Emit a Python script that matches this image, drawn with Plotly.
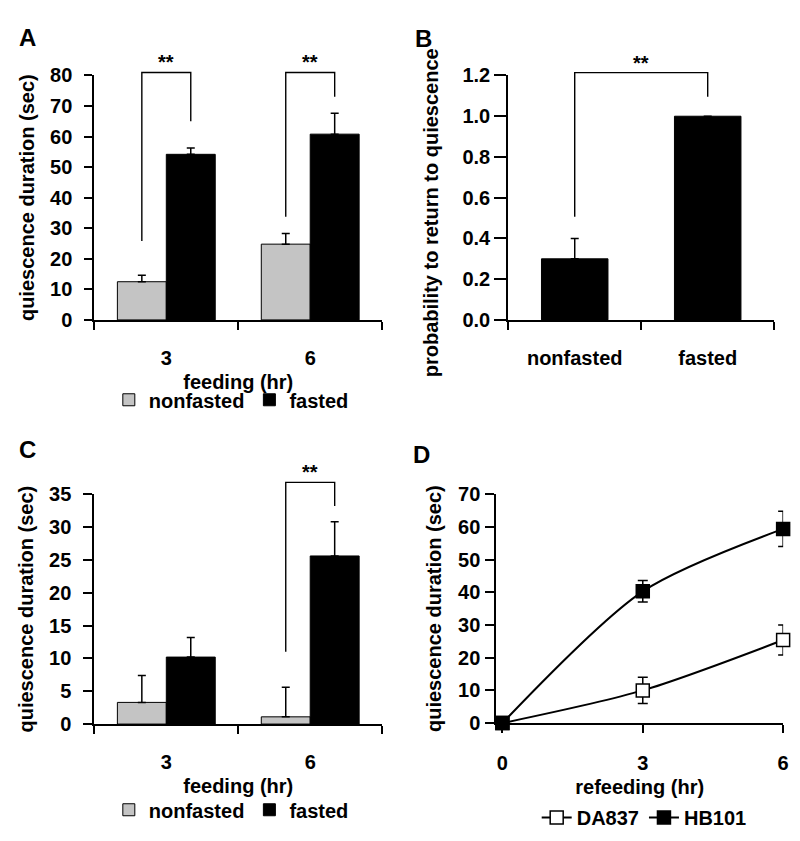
import plotly.graph_objects as go

# ---------------- data ----------------
feed_cats = ["3", "6"]
A_nonfasted = [12.5, 24.8]
A_nonfasted_err = [2.1, 3.5]
A_fasted = [54.2, 60.8]
A_fasted_err = [2.1, 6.8]
A_bracket_top = [81.0, 81.0]
A_bracket_left = [25.8, 33.8]
A_bracket_right = [65.0, 73.0]

B_cats = ["nonfasted", "fasted"]
B_vals = [0.30, 1.00]
B_err = [0.10, 0.0]
B_bracket_top = 1.214
B_bracket_left = 0.507
B_bracket_right = 1.095

C_nonfasted = [3.3, 1.1]
C_nonfasted_err = [4.1, 4.5]
C_fasted = [10.2, 25.6]
C_fasted_err = [3.0, 5.2]
C_bracket_top = 36.8
C_bracket_left = 11.0
C_bracket_right = 33.2

D_hours = [0, 3, 6]
D_DA837 = [0, 10.0, 25.4]
D_DA837_err = [0, 4.0, 4.6]
D_HB101 = [0, 40.3, 59.4]
D_HB101_err = [0, 3.3, 5.4]

GREY = "#c4c4c4"
W, H = 800, 841
BARGAP = 0.32
FONT = "Liberation Sans, Arial, sans-serif"
FS = 20
EXT = 1.15  # head-room factor for the significance-bracket axes


def px_x(p):
    return p / W


def px_y(p):
    return 1 - p / H


fig = go.Figure()

half = (1 - BARGAP) / 4  # bar-centre offset inside a 2-trace group


def bar_pair(nf, nf_err, fa, fa_err, xa, ya, legend):
    idx = list(range(len(feed_cats)))
    fig.add_trace(go.Bar(
        x=idx, y=nf, name="nonfasted", marker=dict(color=GREY, line=dict(color="black", width=1)),
        error_y=dict(type="data", array=nf_err, arrayminus=[0] * len(nf), symmetric=False,
                     color="black", thickness=1.5, width=4),
        xaxis=xa, yaxis=ya, legend=legend))
    fig.add_trace(go.Bar(
        x=idx, y=fa, name="fasted", marker=dict(color="black", line=dict(color="black", width=1)),
        error_y=dict(type="data", array=fa_err, arrayminus=[0] * len(fa), symmetric=False,
                     color="black", thickness=1.5, width=4),
        xaxis=xa, yaxis=ya, legend=legend))


def bracket(xl, xr, top, lb, rb, xa, ya):
    fig.add_trace(go.Scatter(
        x=[xl, xl, xr, xr], y=[lb, top, top, rb], mode="lines",
        line=dict(color="black", width=1.4), cliponaxis=False, showlegend=False,
        hoverinfo="skip", xaxis=xa, yaxis=ya))
    fig.add_annotation(x=(xl + xr) / 2, y=top, xref=xa, yref=ya, text="**",
                       showarrow=False, yanchor="bottom", yshift=-3,
                       font=dict(size=FS, family=FONT, weight="bold"))


# Panel A
bar_pair(A_nonfasted, A_nonfasted_err, A_fasted, A_fasted_err, "x", "y", "legend")
for i in range(len(feed_cats)):
    bracket(i - half, i + half, A_bracket_top[i], A_bracket_left[i], A_bracket_right[i], "x", "y5")

# Panel B
fig.add_trace(go.Bar(
    x=list(range(len(B_cats))), y=B_vals, width=0.5, marker=dict(color="black", line=dict(color="black", width=1)),
    error_y=dict(type="data", array=B_err, arrayminus=[0, 0], symmetric=False,
                 color="black", thickness=1.5, width=4),
    xaxis="x2", yaxis="y2", showlegend=False))
bracket(0, 1, B_bracket_top, B_bracket_left, B_bracket_right, "x2", "y6")
# empty trace so the title-only axis of panel B is drawn
fig.add_trace(go.Scatter(x=[None], y=[None], mode="markers", showlegend=False, hoverinfo="skip",
                         xaxis="x2", yaxis="y8"))

# Panel C
bar_pair(C_nonfasted, C_nonfasted_err, C_fasted, C_fasted_err, "x3", "y3", "legend2")
bracket(1 - half, 1 + half, C_bracket_top, C_bracket_left, C_bracket_right, "x3", "y7")

# Panel D
fig.add_trace(go.Scatter(
    x=D_hours, y=D_DA837, name="DA837", mode="lines+markers",
    line=dict(color="black", width=2, shape="spline", smoothing=0.8),
    marker=dict(symbol="square", size=13, color="white", line=dict(color="black", width=1.5)),
    error_y=dict(type="data", array=D_DA837_err, color="black", thickness=1.5, width=5),
    cliponaxis=False, xaxis="x4", yaxis="y4", legend="legend3"))
fig.add_trace(go.Scatter(
    x=D_hours, y=D_HB101, name="HB101", mode="lines+markers",
    line=dict(color="black", width=2, shape="spline", smoothing=0.8),
    marker=dict(symbol="square", size=13, color="black", line=dict(color="black", width=1.5)),
    error_y=dict(type="data", array=D_HB101_err, color="black", thickness=1.5, width=5),
    cliponaxis=False, xaxis="x4", yaxis="y4", legend="legend3"))

axis_common = dict(showline=True, linewidth=2, linecolor="black", showgrid=False, zeroline=False,
                   tickfont=dict(size=FS), color="black")

ydom_top = [px_y(309), px_y(58)]
ydom_bot = [px_y(724), px_y(488)]
xdom_left = [px_x(87), px_x(377)]


def ext_dom(dom):
    return [dom[0], dom[0] + (dom[1] - dom[0]) * EXT]


def cat_xaxis(labels, dom, anchor, standoff, title=None, tstand=7):
    d = dict(axis_common, domain=dom, range=[-0.5, len(labels) - 0.5], anchor=anchor,
             tickmode="array", tickvals=list(range(len(labels))), ticktext=labels,
             ticks="outside", ticklen=0, tickwidth=2, tickcolor="black", ticklabelstandoff=standoff,
             minor=dict(tickmode="array", tickvals=[i - 0.5 for i in range(len(labels) + 1)],
                        ticks="outside", ticklen=8, tickwidth=2, tickcolor="black"))
    if title:
        d["title"] = dict(text=title, font=dict(size=FS), standoff=tstand)
    return d


def yaxis(dom, rng, dtick, title, anchor, ticklen, lab_off, tstand, fmt=None):
    d = dict(axis_common, domain=dom, range=rng, dtick=dtick, tick0=0, ticks="outside",
             ticklen=ticklen, tickwidth=2, tickcolor="black", anchor=anchor,
             ticklabelstandoff=lab_off)
    if title:
        d["title"] = dict(text=title, font=dict(size=FS), standoff=tstand)
    if fmt:
        d["tickformat"] = fmt
    return d


def hidden_y(dom, rmax, anchor):
    return dict(domain=ext_dom(dom), range=[0, rmax * EXT], visible=False, anchor=anchor,
                showgrid=False, zeroline=False)


fig.update_layout(
    width=W, height=H, margin=dict(l=0, r=0, t=0, b=0),
    paper_bgcolor="white", plot_bgcolor="rgba(0,0,0,0)",
    font=dict(family=FONT, size=FS, color="black", weight="bold"),
    barmode="group", bargap=BARGAP, bargroupgap=0,
    xaxis=cat_xaxis(feed_cats, xdom_left, "y", 19, "feeding (hr)"),
    yaxis=yaxis(ydom_top, [0, 80], 10, "quiescence duration (sec)", "x", 8, 8, 10),
    xaxis2=cat_xaxis(B_cats, [px_x(504), px_x(772)], "y2", 19),
    yaxis2=yaxis(ydom_top, [0, 1.2], 0.2, None, "x2", 12, 0, 0, ".1f"),
    yaxis8=dict(domain=[px_y(340), px_y(58)], range=[0, 1], anchor="x2", showline=False,
                showticklabels=False, ticks="", showgrid=False, zeroline=False,
                title=dict(text="probability to return to quiescence", font=dict(size=FS), standoff=63)),
    xaxis3=cat_xaxis(feed_cats, xdom_left, "y3", 19, "feeding (hr)"),
    yaxis3=yaxis(ydom_bot, [0, 35], 5, "quiescence duration (sec)", "x3", 9, 8, 10),
    xaxis4=dict(axis_common, domain=[px_x(492), px_x(781)], range=[-0.13, 6.0],
                tickmode="array", tickvals=D_hours, ticks="outside", ticklen=8, tickwidth=2,
                tickcolor="black", ticklabelstandoff=13, anchor="y4",
                title=dict(text="refeeding (hr)", font=dict(size=FS), standoff=7)),
    yaxis4=yaxis([px_y(723), px_y(488)], [0, 70], 10, "quiescence duration (sec)", "x4", 9, 1, 11),
    yaxis5=hidden_y(ydom_top, 80, "x"),
    yaxis6=hidden_y(ydom_top, 1.2, "x2"),
    yaxis7=hidden_y(ydom_bot, 35, "x3"),
    legend=dict(orientation="h", x=px_x(225), y=px_y(391), xanchor="center", yanchor="middle",
                font=dict(size=FS), itemwidth=30, bgcolor="rgba(0,0,0,0)"),
    legend2=dict(orientation="h", x=px_x(225), y=px_y(812), xanchor="center", yanchor="middle",
                 font=dict(size=FS), itemwidth=30, bgcolor="rgba(0,0,0,0)"),
    legend3=dict(orientation="h", x=px_x(641), y=px_y(820), xanchor="center", yanchor="middle",
                 font=dict(size=FS), itemwidth=30, bgcolor="rgba(0,0,0,0)"),
)

for txt, xp, yp in [("A", 20, 19), ("B", 419, 20), ("C", 20, 442), ("D", 417, 447)]:
    fig.add_annotation(text=txt, x=px_x(xp), y=px_y(yp), xref="paper", yref="paper",
                       showarrow=False, xanchor="center", yanchor="middle",
                       font=dict(size=24, family=FONT, weight="bold"))

fig.write_html("out.html")
